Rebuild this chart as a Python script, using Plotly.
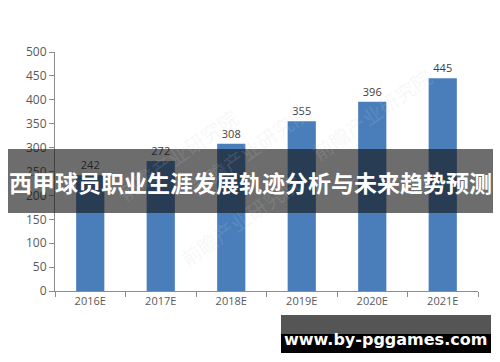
import plotly.graph_objects as go

years = ["2016E", "2017E", "2018E", "2019E", "2020E", "2021E"]
values = [242, 272, 308, 355, 396, 445]
y_ticks = [0, 50, 100, 150, 200, 250, 300, 350, 400, 450, 500]
banner_title = "西甲球员职业生涯发展轨迹分析与未来趋势预测"
footer_text = "www.by-pggames.com"
watermark = "前瞻产业研究院"

L, R, T, B = 55, 22, 52, 71
W, H = 500, 362
pw, ph = W - L - R, H - T - B

def px(x):
    return (x - L) / pw

def py(y):
    return (H - B - y) / ph

fig = go.Figure(go.Bar(
    x=years, y=values, width=0.4,
    marker=dict(color="#4a7ebb", line=dict(width=0)),
    text=[str(v) for v in values], textposition="outside",
    textfont=dict(family="Open Sans, DejaVu Sans", size=11, color="#404040"),
    cliponaxis=False,
))

shapes = []
annotations = []

# faint watermarks
for (x, y) in [(110, 100), (250, 95), (440, 60), (240, 275)]:
    annotations.append(dict(
        x=px(x), y=py(y), xref="paper", yref="paper", text=watermark,
        showarrow=False, textangle=-35,
        font=dict(family="Noto Sans CJK SC", size=20, color="rgba(200,208,215,0.16)"),
    ))

# banner
shapes.append(dict(type="rect", xref="paper", yref="paper",
                   x0=px(8), x1=px(493), y0=py(213), y1=py(149),
                   fillcolor="rgba(20,20,20,0.62)", line=dict(width=0), layer="above"))
annotations.append(dict(
    x=px(250), y=py(182), xref="paper", yref="paper", text="<b>" + banner_title + "</b>",
    showarrow=False, xanchor="center", yanchor="middle",
    font=dict(family="Noto Sans CJK SC", size=23, color="white"),
))

# footer
shapes.append(dict(type="rect", xref="paper", yref="paper",
                   x0=px(281), x1=px(491), y0=py(334), y1=py(315),
                   fillcolor="#555555", line=dict(width=0), layer="above"))
shapes.append(dict(type="rect", xref="paper", yref="paper",
                   x0=px(281), x1=px(491), y0=py(353), y1=py(334),
                   fillcolor="#000000", line=dict(width=0), layer="above"))
annotations.append(dict(
    x=px(385), y=py(339), xref="paper", yref="paper", text="<b>" + footer_text + "</b>",
    showarrow=False, xanchor="center", yanchor="middle",
    font=dict(family="DejaVu Sans", size=16, color="white"),
))

fig.update_layout(
    width=W, height=H,
    margin=dict(l=L, r=R, t=T, b=B, pad=0),
    paper_bgcolor="white", plot_bgcolor="white",
    showlegend=False,
    shapes=shapes, annotations=annotations,
    xaxis=dict(
        type="category", showline=True, linecolor="#8c8c8c", linewidth=1,
        ticks="outside", tickson="boundaries", ticklen=5, tickcolor="#8c8c8c",
        tickfont=dict(family="Open Sans, DejaVu Sans", size=11, color="#595959"),
        showgrid=False, zeroline=False,
    ),
    yaxis=dict(
        range=[0, 500], tickvals=y_ticks, showline=True, linecolor="#8c8c8c", linewidth=1,
        ticks="outside", ticklen=5, tickcolor="#8c8c8c",
        tickfont=dict(family="Open Sans, DejaVu Sans", size=12, color="#595959"),
        showgrid=False, zeroline=False,
    ),
)

fig.write_html("out.html")
